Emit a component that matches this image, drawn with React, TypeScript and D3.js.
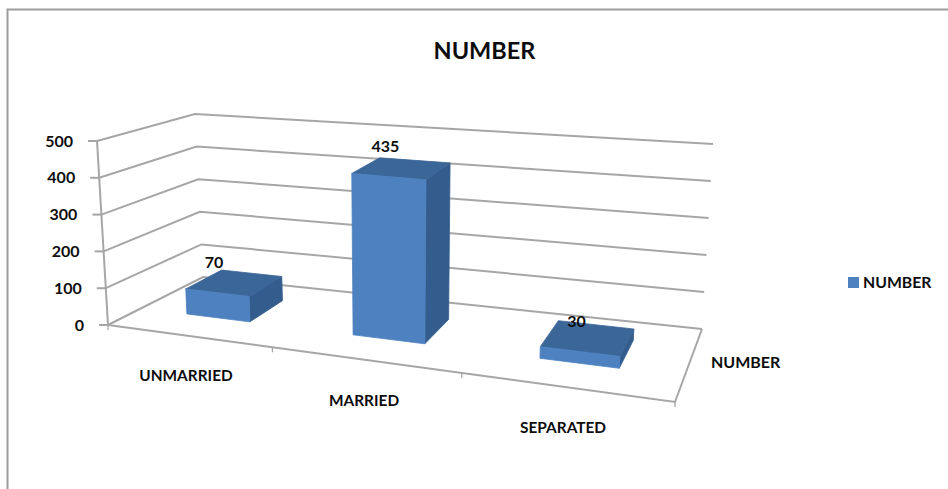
import React from "react";
import * as d3 from "d3";

const categories = ["UNMARRIED", "MARRIED", "SEPARATED"];
const values = [70, 435, 30];
const yTicks = [0, 100, 200, 300, 400, 500];
const seriesName = "NUMBER";

const WIDTH = 948;
const HEIGHT = 489;
const FONT = "Lato, 'Open Sans', sans-serif";

// Corners of the 3D plot box in screen space: [side][depth][level].
const corners = {
  frontLeft: { low: [108, 325], high: [97, 141] },
  backLeft: { low: [203, 277], high: [195, 114] },
  backRight: { low: [702, 329], high: [713, 144] },
  frontRight: { low: [675, 402], high: [687, 195] },
};

// Footprint of each column on the floor, as fractions of the box.
const barSpans = [
  [0.084, 0.2],
  [0.39, 0.522],
  [0.734, 0.88],
];
const barDepth = [0.35, 0.75];
const categoryBoundaries = [0, 0.29, 0.624, 1];

const level = d3.scaleLinear().domain([0, 500]).range([0, 1]);
const mix = (a: number[], b: number[], k: number) => [a[0] + (b[0] - a[0]) * k, a[1] + (b[1] - a[1]) * k];

// Trilinear projection: across the categories (t), into the box (d), up the value axis.
function project(t: number, d: number, value: number): number[] {
  const v = level(value);
  const at = (c: { low: number[]; high: number[] }) => mix(c.low, c.high, v);
  const front = mix(at(corners.frontLeft), at(corners.frontRight), t);
  const back = mix(at(corners.backLeft), at(corners.backRight), t);
  return mix(front, back, d);
}

const path = d3.line<number[]>().x((p) => p[0]).y((p) => p[1]);
const polygon = (pts: number[][]) => path(pts) + "Z";

const GRID = "#a6a6a6";
const FRONT = "#4d81c0";
const TOP = "#3b6698";
const SIDE = "#345d8e";
const INK = "#0d0d0d";

function Column({ index }: { index: number }) {
  const [t0, t1] = barSpans[index];
  const [d0, d1] = barDepth;
  const v = values[index];
  const top = polygon([project(t0, d0, v), project(t1, d0, v), project(t1, d1, v), project(t0, d1, v)]);
  const side = polygon([project(t1, d0, 0), project(t1, d1, 0), project(t1, d1, v), project(t1, d0, v)]);
  const front = polygon([project(t0, d0, 0), project(t1, d0, 0), project(t1, d0, v), project(t0, d0, v)]);
  const label = project((t0 + t1) / 2, d0, v);
  return (
    <g strokeWidth={0.8} strokeLinejoin="round">
      <path d={side} fill={SIDE} stroke={SIDE} />
      <path d={top} fill={TOP} stroke={TOP} />
      <path d={front} fill={FRONT} stroke={FRONT} />
      <text x={label[0] - 3.5} y={label[1] - 30} dy="0.35em" textAnchor="middle" fontSize={16} fontWeight={700} fill={INK}>
        {v}
      </text>
    </g>
  );
}

export default function App() {
  const grid = yTicks.map((tick) => path([project(0, 0, tick), project(0, 1, tick), project(1, 1, tick)]) as string);
  const floorEdge = path([project(0, 0, 0), project(1, 0, 0), project(1, 1, 0)]) as string;

  return (
    <svg
      width={WIDTH}
      height={HEIGHT}
      viewBox={`0 0 ${WIDTH} ${HEIGHT}`}
      style={{ position: "absolute", left: 0, top: 0, background: "#fff" }}
      fontFamily={FONT}
    >
      {/* chart frame: top and left edges run to the image border */}
      <path d={`M7.5 ${HEIGHT} V9.5 H${WIDTH}`} fill="none" stroke="#9c9c9c" strokeWidth={2} />

      <text x={484.5} y={51} dy="0.35em" textAnchor="middle" fontSize={23.5} fontWeight={700} fill={INK}>
        {seriesName}
      </text>

      {/* gridlines along the side and back walls, with value ticks */}
      <g fill="none" stroke={GRID} strokeWidth={2}>
        {grid.map((d, i) => (
          <path key={i} d={d} />
        ))}
        <path d={path([project(0, 0, 0), project(0, 0, 500)]) as string} />
        <path d={floorEdge} />
        {yTicks.map((tick) => {
          const p = project(0, 0, tick);
          return <path key={tick} d={`M${p[0] - 9} ${p[1]} H${p[0]}`} />;
        })}
        {categoryBoundaries.map((b) => {
          const p = project(b, 0, 0);
          return <path key={b} d={`M${p[0]} ${p[1]} v5`} strokeWidth={1.3} />;
        })}
      </g>

      {yTicks.map((tick) => {
        const p = project(0, 0, tick);
        return (
          <text key={tick} x={p[0] - 24} y={p[1]} dy="0.35em" textAnchor="end" fontSize={16} fontWeight={700} fill={INK}>
            {tick}
          </text>
        );
      })}

      {categories.map((_, i) => (
        <Column key={i} index={i} />
      ))}

      {categories.map((name, i) => {
        const p = project((barSpans[i][0] + barSpans[i][1]) / 2, 0, 0);
        return (
          <text key={name} x={p[0] - 2.5} y={p[1] + 40} dy="0.35em" textAnchor="middle" fontSize={15.4} fontWeight={700} fill={INK}>
            {name}
          </text>
        );
      })}

      <text x={711} y={362} dy="0.35em" fontSize={16} fontWeight={700} fill={INK}>
        {seriesName}
      </text>

      <rect x={848} y={277} width={11} height={11} fill={FRONT} />
      <text x={863} y={282} dy="0.35em" fontSize={15.8} fontWeight={700} fill={INK}>
        {seriesName}
      </text>
    </svg>
  );
}
